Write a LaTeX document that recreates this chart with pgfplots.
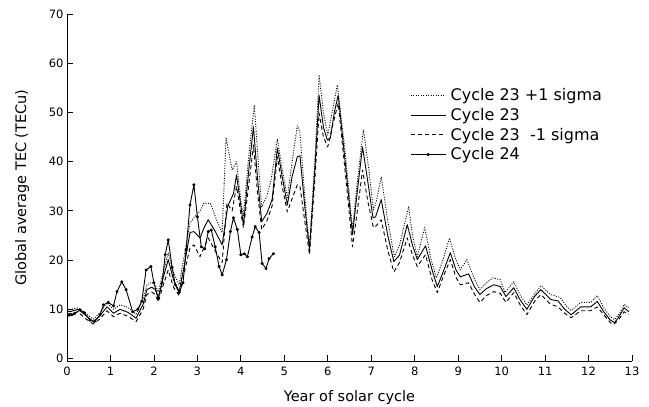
\documentclass[border=0pt]{standalone}
\usepackage{pgfplots}
\pgfplotsset{compat=1.18}
\usepackage{fontspec}
\setmainfont{DejaVu Sans}
\begin{document}
\begin{tikzpicture}
\begin{axis}[
 width=565bp, height=347bp, scale only axis,
 xmin=0, xmax=13, ymin=-0.5, ymax=70,
 axis x line*=bottom, axis y line*=left,
 xtick={0,...,13}, ytick={0,10,...,70},
 tick align=inside, major tick length=6bp,
 tick style={black, line width=0.8bp},
 axis line style={line width=0.8bp},
 /pgf/number format/assume math mode=true,
 tick label style={font=\fontsize{11.5bp}{13bp}\selectfont},
 xticklabel style={yshift=-2.5bp},
 xlabel={Year of solar cycle},
 ylabel={Global average TEC (TECu)},
 label style={font=\fontsize{14.5bp}{17bp}\selectfont},
 xlabel style={at={(axis description cs:0.5,-0.118)}, anchor=base},
 ylabel style={at={(axis description cs:-0.0796,0.5)}, anchor=center},
 legend style={draw=none, fill=none, at={(rel axis cs:0.602,0.795)}, anchor=north west,
   font=\fontsize{16bp}{18bp}\selectfont, row sep=3bp, nodes={inner sep=1.5bp}},
 legend cell align=left,
 legend image code/.code={\draw[mark repeat=2,mark phase=2,#1] plot coordinates {(0bp,0bp) (17.5bp,0bp) (35bp,0bp)}; \path (38bp,0bp);},
]
\addplot[black, line width=0.9bp, dash pattern=on 1bp off 1.5bp, line join=round] coordinates {
(0.0,9.8)(0.1,10.0)(0.25,10.3)(0.4,9.4)(0.6,8.0)(0.75,9.2)(0.92,11.3)(1.07,10.0)(1.22,10.9)(1.4,10.4)(1.59,9.0)(1.75,12.0)(1.84,15.0)(1.95,15.5)(2.03,15.0)(2.1,13.5)(2.2,17.0)(2.33,21.5)(2.45,17.5)(2.58,15.0)(2.7,21.0)(2.83,27.5)(2.92,28.6)(3.06,30.0)(3.15,31.6)(3.3,31.5)(3.45,28.0)(3.57,25.6)(3.66,44.8)(3.8,38.3)(3.9,40.0)(4.0,32.0)(4.06,29.0)(4.18,41.0)(4.31,51.5)(4.4,40.0)(4.48,30.8)(4.6,33.0)(4.7,36.5)(4.84,44.6)(4.95,38.5)(5.07,32.7)(5.18,40.0)(5.3,47.3)(5.36,46.0)(5.47,33.0)(5.58,22.7)(5.7,40.0)(5.8,57.6)(5.9,50.0)(6.0,45.4)(6.1,50.0)(6.22,55.6)(6.4,42.0)(6.57,26.2)(6.68,36.0)(6.82,46.5)(6.95,38.0)(7.05,30.2)(7.12,32.0)(7.23,36.9)(7.38,28.0)(7.53,20.7)(7.65,23.0)(7.86,30.8)(7.95,25.0)(8.06,20.7)(8.23,26.6)(8.38,20.0)(8.5,16.4)(8.65,20.0)(8.8,24.5)(8.95,20.0)(9.05,18.0)(9.2,20.1)(9.38,16.0)(9.5,14.0)(9.65,15.4)(9.8,16.4)(9.97,16.0)(10.08,13.4)(10.28,15.6)(10.42,13.0)(10.58,10.9)(10.75,13.0)(10.9,14.8)(11.13,13.0)(11.35,12.4)(11.48,10.8)(11.6,9.7)(11.82,11.4)(12.05,11.4)(12.2,12.8)(12.35,10.3)(12.5,8.5)(12.6,7.9)(12.7,9.0)(12.82,11.0)(12.93,10.3)
};
\addlegendentry{Cycle 23 +1 sigma}
\addplot[black, line width=0.9bp, line join=round] coordinates {
(0.0,9.5)(0.1,9.6)(0.25,10.0)(0.4,9.0)(0.6,7.5)(0.75,8.6)(0.92,10.5)(1.07,9.2)(1.22,10.0)(1.4,9.4)(1.59,8.2)(1.75,11.0)(1.84,14.0)(1.95,14.5)(2.03,14.0)(2.1,12.4)(2.2,16.0)(2.33,20.1)(2.45,16.0)(2.58,13.6)(2.7,19.0)(2.83,25.6)(2.92,25.8)(3.06,24.5)(3.15,26.5)(3.25,28.2)(3.4,26.0)(3.57,23.1)(3.7,31.0)(3.83,33.5)(3.9,37.3)(4.0,31.0)(4.06,27.2)(4.18,38.0)(4.29,47.1)(4.38,37.0)(4.48,27.8)(4.6,29.5)(4.72,32.3)(4.84,42.8)(4.95,37.0)(5.07,31.2)(5.18,37.0)(5.3,41.0)(5.36,41.2)(5.47,31.0)(5.58,22.1)(5.7,38.0)(5.8,53.5)(5.9,47.0)(5.99,44.4)(6.06,44.8)(6.15,50.0)(6.24,53.5)(6.4,40.0)(6.57,25.2)(6.68,34.0)(6.8,43.0)(6.92,36.0)(7.04,28.6)(7.1,28.8)(7.23,32.3)(7.38,25.0)(7.52,19.7)(7.65,21.0)(7.83,27.2)(7.95,23.0)(8.06,20.1)(8.25,22.9)(8.4,18.0)(8.52,14.6)(8.65,17.5)(8.82,21.5)(8.95,18.0)(9.05,16.6)(9.24,17.2)(9.38,14.5)(9.5,13.0)(9.65,14.2)(9.82,15.0)(9.97,14.6)(10.1,12.6)(10.28,14.4)(10.42,12.0)(10.58,10.0)(10.75,12.5)(10.9,14.0)(11.13,12.0)(11.3,11.7)(11.45,10.0)(11.6,8.9)(11.82,10.5)(12.05,10.5)(12.2,11.6)(12.35,9.5)(12.5,7.8)(12.6,7.3)(12.7,8.5)(12.82,10.3)(12.93,9.5)
};
\addlegendentry{Cycle 23}
\addplot[black, line width=0.9bp, dash pattern=on 4bp off 3bp, line join=round] coordinates {
(0.0,9.0)(0.1,9.2)(0.25,9.5)(0.4,8.3)(0.6,7.0)(0.75,8.0)(0.92,9.7)(1.07,8.5)(1.22,9.2)(1.4,8.6)(1.59,7.5)(1.75,10.0)(1.84,13.0)(1.95,13.5)(2.03,13.0)(2.1,11.5)(2.2,14.5)(2.33,18.0)(2.45,14.5)(2.58,12.8)(2.7,17.5)(2.83,22.5)(2.92,23.1)(3.06,20.7)(3.15,22.5)(3.25,24.5)(3.4,22.0)(3.57,19.5)(3.68,31.6)(3.8,30.0)(3.9,35.0)(4.0,29.5)(4.06,26.6)(4.18,35.0)(4.29,43.4)(4.38,34.0)(4.48,26.2)(4.6,28.0)(4.72,31.0)(4.84,41.0)(4.95,35.0)(5.07,29.8)(5.18,32.5)(5.3,35.3)(5.36,35.0)(5.47,28.0)(5.58,21.1)(5.7,36.0)(5.8,49.9)(5.9,45.0)(6.0,43.0)(6.1,47.0)(6.24,51.9)(6.4,38.0)(6.57,22.7)(6.68,30.0)(6.8,38.3)(6.92,32.0)(7.05,26.6)(7.12,27.0)(7.23,28.2)(7.38,22.0)(7.52,17.6)(7.65,19.5)(7.83,24.5)(7.95,21.0)(8.06,18.7)(8.25,21.1)(8.4,16.0)(8.52,13.4)(8.65,16.5)(8.82,20.1)(8.95,16.5)(9.05,15.0)(9.24,15.4)(9.38,13.0)(9.5,11.4)(9.65,12.8)(9.82,13.6)(9.97,13.2)(10.1,11.4)(10.28,13.4)(10.42,11.0)(10.58,8.9)(10.75,11.5)(10.9,13.0)(11.13,11.0)(11.3,10.5)(11.45,9.2)(11.6,8.3)(11.82,9.7)(12.05,9.7)(12.2,10.5)(12.35,8.9)(12.5,7.3)(12.58,6.9)(12.7,8.0)(12.82,9.5)(12.93,9.0)
};
\addlegendentry{Cycle 23\ \ -1 sigma}
\addplot[black, line width=0.9bp, line join=round, mark=*, mark size=1.1bp] coordinates {
(0.05,8.8)(0.11,8.9)(0.17,9.1)(0.3,9.9)(0.4,9.3)(0.53,7.8)(0.63,7.5)(0.76,8.9)(0.84,10.9)(0.95,11.4)(1.07,10.7)(1.15,13.6)(1.26,15.6)(1.36,14.0)(1.51,9.5)(1.63,10.0)(1.72,11.6)(1.82,18.0)(1.93,18.7)(2.0,15.4)(2.1,12.2)(2.19,15.4)(2.26,21.1)(2.33,24.1)(2.42,18.5)(2.49,15.0)(2.58,13.4)(2.67,15.4)(2.74,22.1)(2.83,31.2)(2.92,35.3)(3.0,28.8)(3.09,22.7)(3.17,22.3)(3.25,25.8)(3.32,26.1)(3.41,22.7)(3.5,18.7)(3.57,17.0)(3.67,20.1)(3.76,25.8)(3.83,28.6)(3.92,26.2)(4.0,21.1)(4.08,21.3)(4.15,20.7)(4.26,24.7)(4.33,26.8)(4.42,25.6)(4.49,19.3)(4.58,18.3)(4.65,20.3)(4.75,21.3)
};
\addlegendentry{Cycle 24}
\end{axis}
\pgfresetboundingbox
\path ([shift={(-67bp,-46bp)}]current axis.south west) rectangle ([shift={(17bp,14bp)}]current axis.north east);
\end{tikzpicture}
\end{document}
